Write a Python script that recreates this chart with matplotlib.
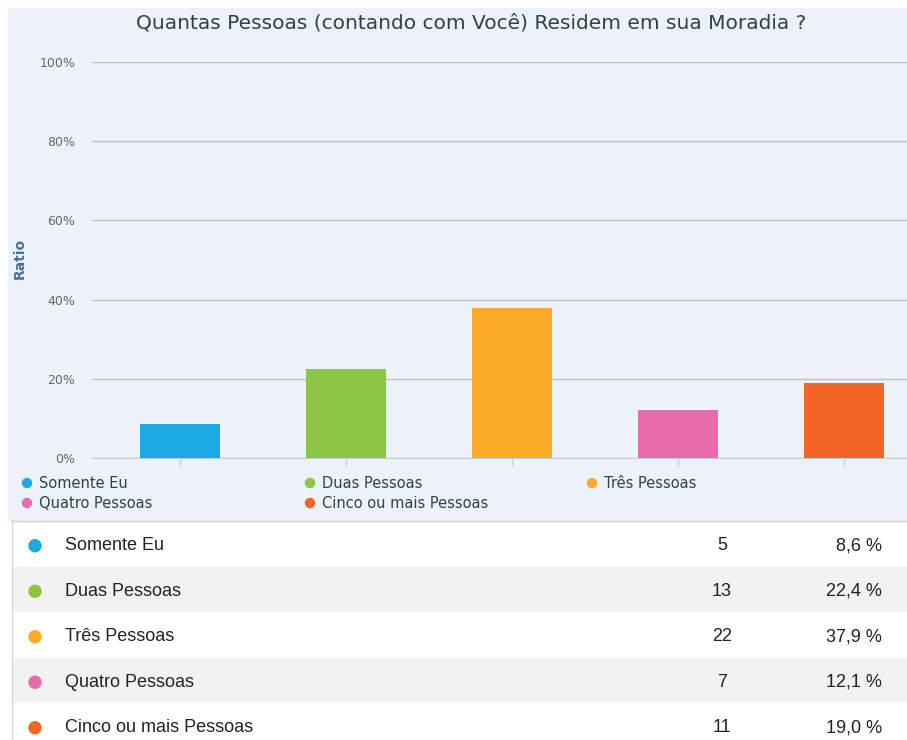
import numpy as np
import matplotlib.pyplot as plt
from matplotlib.patches import Rectangle, Circle

# data
categories = ['Somente Eu', 'Duas Pessoas', 'Três Pessoas', 'Quatro Pessoas', 'Cinco ou mais Pessoas']
counts = [5, 13, 22, 7, 11]
ratios = [8.6, 22.4, 37.9, 12.1, 19.0]
ratio_labels = ['8,6 %', '22,4 %', '37,9 %', '12,1 %', '19,0 %']
colors = ['#1ca8e3', '#8cc541', '#fcab26', '#e86cab', '#f26524']
yticks = [0, 20, 40, 60, 80, 100]

W, H = 907, 740
fig = plt.figure(figsize=(W / 100, H / 100), dpi=100)

# background layer in pixel coordinates
bg = fig.add_axes([0, 0, 1, 1])
bg.set_xlim(0, W)
bg.set_ylim(H, 0)
bg.axis('off')
bg.add_patch(Rectangle((8, 8), W - 8, 512, color='#edf1f8', zorder=0))

title = 'Quantas Pessoas (contando com Você) Residem em sua Moradia ?'
bg.text(471, 23, title, ha='center', va='center', fontsize=14.5, color='#2f4050',
        family='DejaVu Sans')
bg.text(20, 258, 'Ratio', ha='center', va='center', rotation=90, fontsize=10,
        fontweight='bold', color='#4a6e9a')

# legend (two rows, three columns)
leg_x = [27, 310, 592]
leg_y = [483, 503]
for i, (name, c) in enumerate(zip(categories, colors)):
    x = leg_x[i % 3]
    y = leg_y[i // 3]
    bg.add_patch(Circle((x, y), 4.5, color=c, zorder=2))
    bg.text(x + 12, y, name, ha='left', va='center', fontsize=10.5, color='#2f4050')

# table below the chart
row_top = 521
row_h = 45.5
bg.plot([12, 12], [row_top, H], color='#d8d8d8', lw=1)
bg.plot([12, W], [row_top, row_top], color='#e0e0e0', lw=2)
for i, (name, n, lab, c) in enumerate(zip(categories, counts, ratio_labels, colors)):
    y0 = row_top + i * row_h
    fc = '#f2f2f2' if i % 2 == 1 else 'white'
    bg.add_patch(Rectangle((13, y0), W - 13, row_h, color=fc, zorder=1))
    yc = y0 + row_h / 2 + 2
    bg.add_patch(Circle((35, yc), 6, color=c, zorder=2))
    bg.text(65, yc, name, ha='left', va='center', fontsize=13, color='#222222',
            family='Liberation Sans', zorder=3)
    bg.text(722, yc, str(n), ha='center', va='center', fontsize=13, color='#222222',
            family='Liberation Sans', zorder=3)
    bg.text(882, yc, lab, ha='right', va='center', fontsize=13, color='#222222',
            family='Liberation Sans', zorder=3)

# bar chart
left, right = 92, W
top, bottom = 62, 458
ax = fig.add_axes([left / W, 1 - bottom / H, (right - left) / W, (bottom - top) / H])
ax.set_facecolor('none')
x = np.arange(len(categories))
ax.bar(x, ratios, width=0.48, color=colors, zorder=3)
ax.set_xlim((left - 180) / 166, (right - 180) / 166)
ax.set_ylim(0, 100)
ax.set_yticks(yticks)
ax.set_yticklabels([f'{v}%' for v in yticks], fontsize=9, color='#666666')
ax.yaxis.grid(True, color='#c0c0c0', lw=1, zorder=0)
ax.set_xticks(x)
ax.set_xticklabels([])
ax.tick_params(axis='x', length=6, color='#c0d0e0', width=1)
ax.tick_params(axis='y', length=0, pad=12)
for s in ['top', 'right', 'left']:
    ax.spines[s].set_visible(False)
ax.spines['bottom'].set_color('#c0d0e0')

fig.savefig('out.png', dpi=100)
